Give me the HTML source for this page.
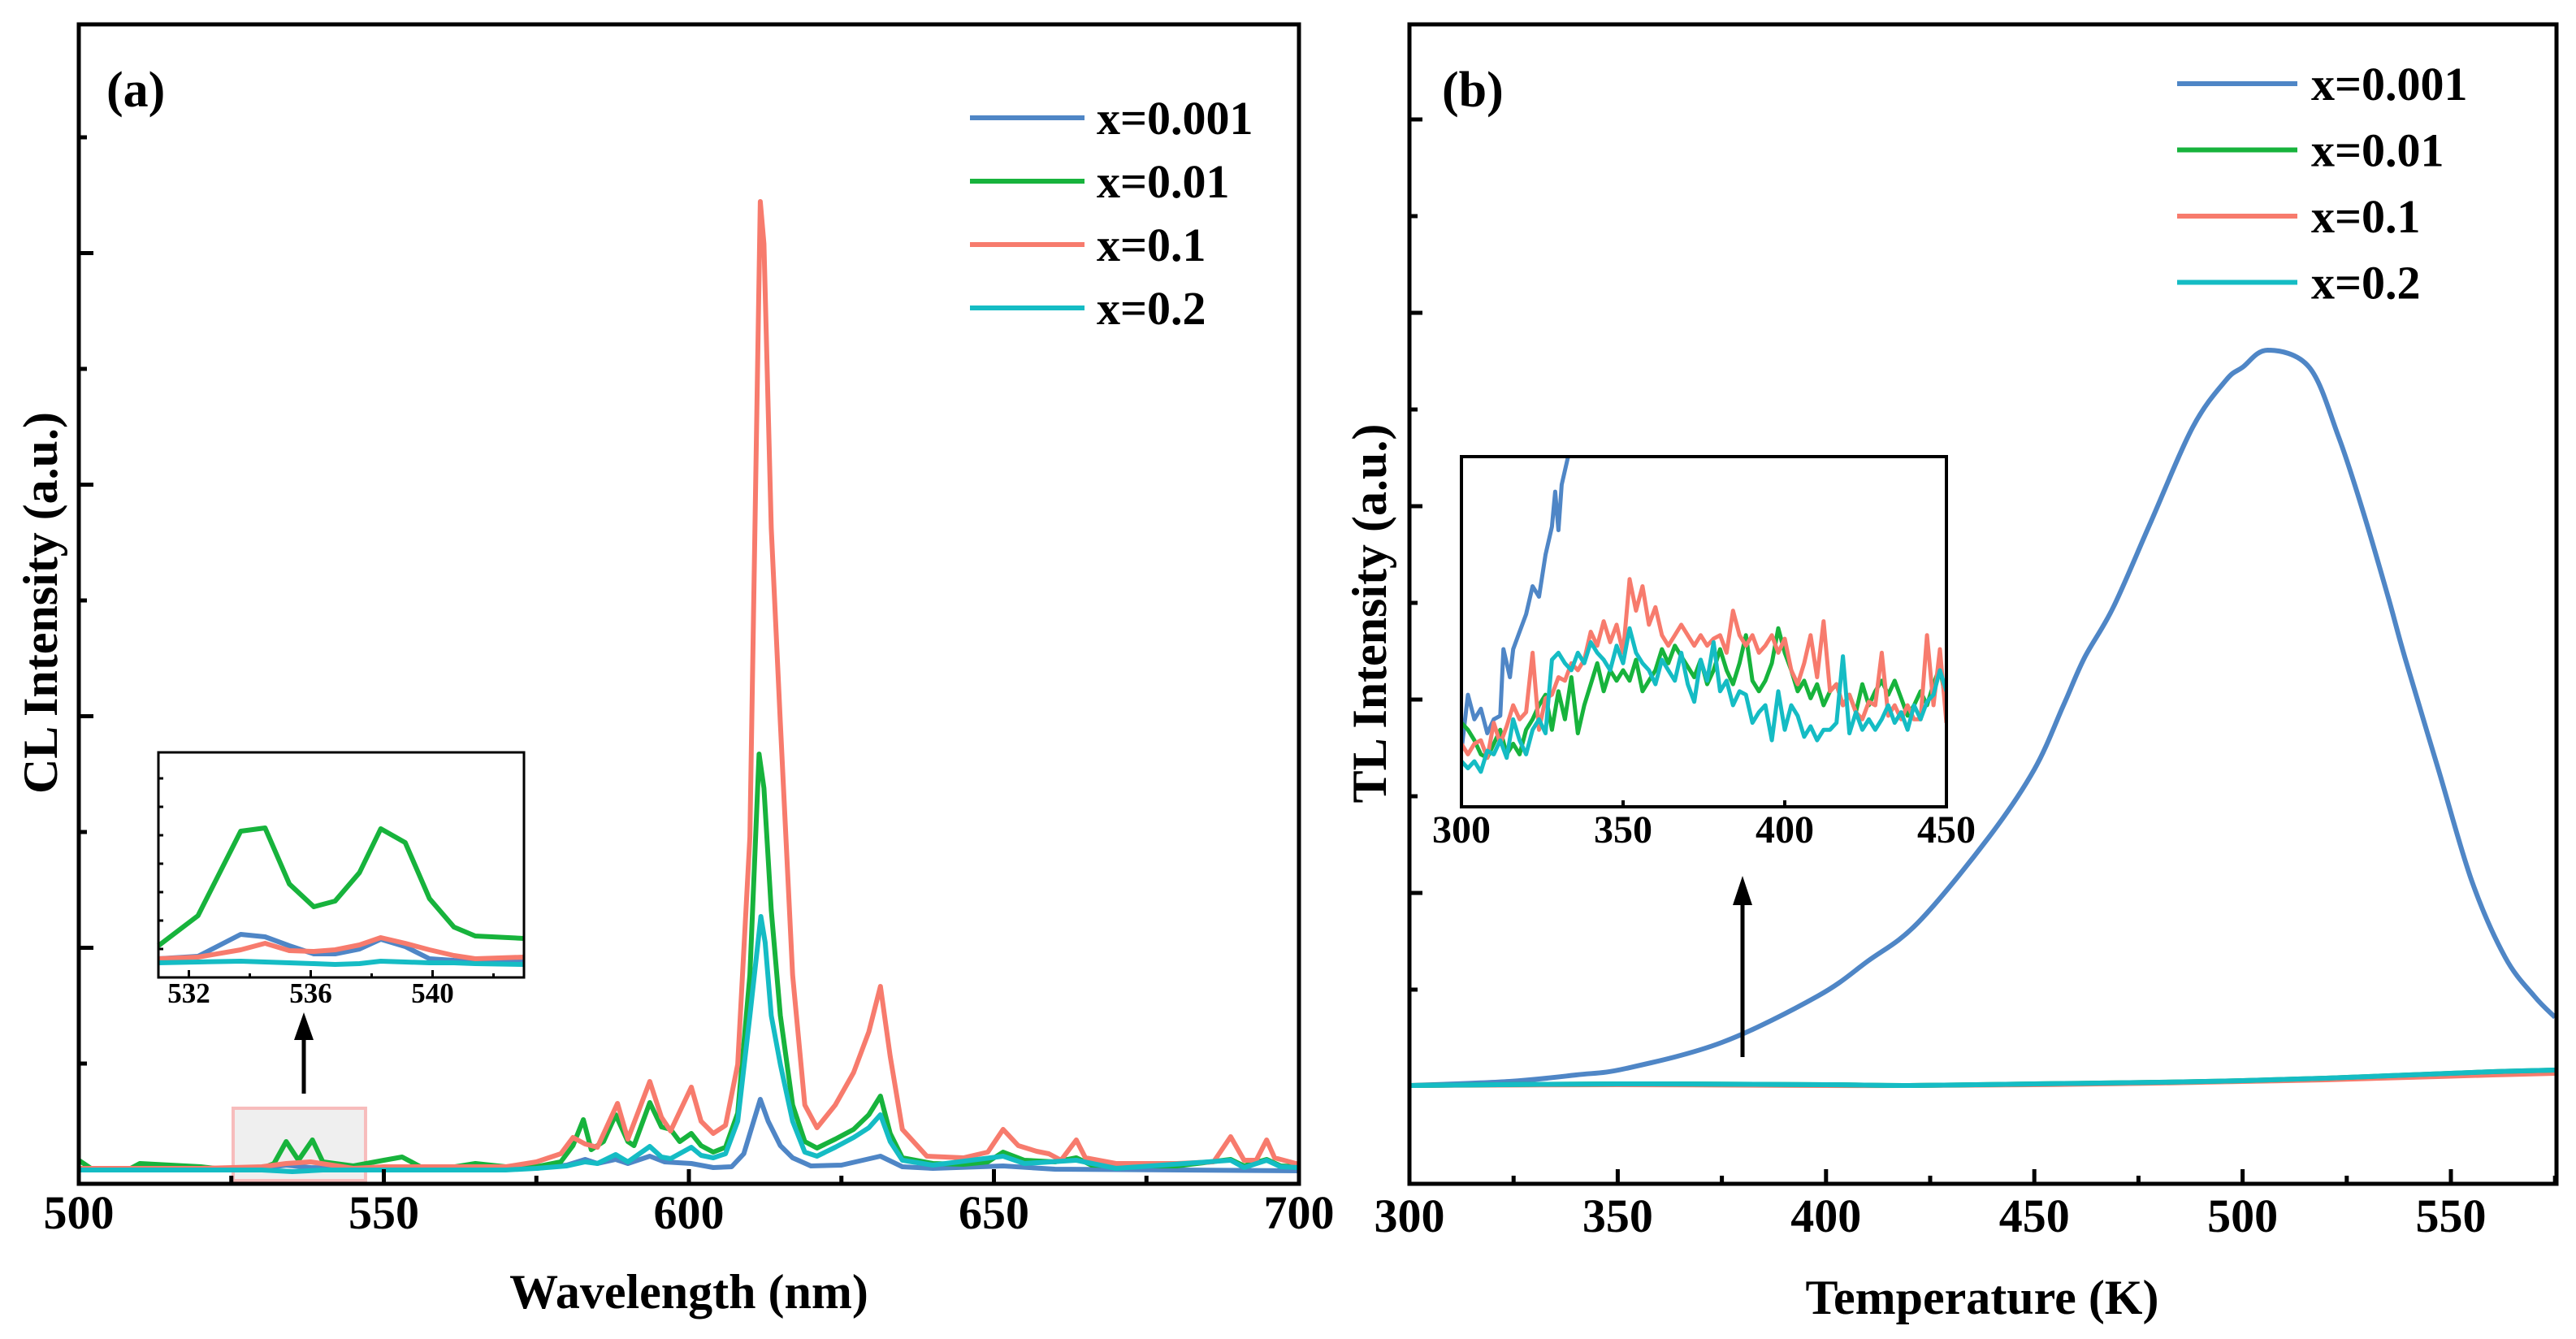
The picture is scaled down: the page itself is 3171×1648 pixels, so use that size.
<!DOCTYPE html>
<html><head><meta charset="utf-8"><style>
html,body{margin:0;padding:0;background:#fff;}
svg{display:block;font-family:"Liberation Serif",serif;font-weight:bold;}
</style></head><body>
<svg id="fig" width="3171" height="1648" viewBox="0 0 3171 1648" xmlns="http://www.w3.org/2000/svg">
<g id="pa"></g>
<g id="pb"></g>
</svg>
<script>
// ---------- Panel (a) data: CL spectra ----------
const aBlueX=[500,520,530,534,538,550,575,580,583,585,588,590,593.6,596,600.4,604,607,609,611.7,613,615,617,620,625,631.4,635,640,651.5,660,700];
const aBlueY=[12,11,12,16,13,11,12,16,23,18,23,18,27,20,18,13,14,30,97,70,40,25,15,16,27,14,12,15,11,9];
const aGreenX=[500,502,505,508,510,515,520,525,530,532,534,536,538.3,540,545,550,553,556,560,565,570,575,579,581,582.7,584,586,588,590,591,593.6,595.5,597,598.5,600.4,602,604,606,608,610,611.5,612.3,613.5,615,617,619,621,624,627,629.5,631.4,633,635,640,645,649,651.5,655,660,663.5,666,670,680,688.8,691,694.7,697,700];
const aGreenY=[22,12,10,10,18,16,14,10,12,18,45,22,47,20,15,22,26,14,12,18,14,14,20,40,72,35,45,78,45,40,93,63,60,45,55,40,32,38,80,250,522,480,330,200,90,45,37,48,60,78,101,55,25,18,17,20,32,22,20,25,16,15,15,23,15,23,15,14];
const aRedX=[500,510,520,530,534,538,545,550,560,570,575,579,581,583,585,588.3,590,593.6,595.5,597,600.4,602,604,606,608,610,611.7,612.3,613.5,615,617,619,621,624,627,629.5,631.4,633,635,639,645,649,651.5,654,657,659,661,663.5,665,670,680,686,688.8,691,693,694.7,696,700];
const aRedY=[12,12,12,14,18,20,12,14,14,14,20,30,50,42,38,92,48,119,75,58,112,70,55,65,140,420,1202,1150,800,560,250,90,62,90,130,180,236,150,60,27,25,32,60,40,33,30,22,47,25,18,18,20,51,22,22,47,25,17];
const aCyanX=[500,510,520,530,535,540,550,560,570,575,580,583,585,588,590,593.6,595.5,597,600.4,602,604,606,608,610,611.8,612.5,613.5,615,617,619,621,624,627,629.5,631.4,633,635,640,651.5,655,663.5,670,688.8,691,694.7,697,700];
const aCyanY=[10,10,10,10,8,10,10,10,10,12,15,20,18,29,20,39,26,24,38,28,25,30,70,200,322,290,200,140,70,32,27,38,50,62,78,45,22,16,27,18,22,12,22,13,22,14,13];
const aXTicks=[500,550,600,650,700];
// inset (a) data
const iaX=[531,532.3,533.7,534.5,535.3,536.1,536.8,537.6,538.3,539.1,539.9,540.7,541.4,543];
const iaGreen=[39,76,180,184,115,87,94,129,183,166,97,62,51,48];
const iaBlue=[23,26,53,50,39,29,29,35,47,38,23,21,20,20];
const iaRed=[23,25,34,42,33,32,34,40,49,42,34,27,23,25];
const iaCyan=[18,19,20,19,18,17,16,17,20,19,18,18,17,16];
const iaXTicks=[532,536,540];
// ---------- Panel (b) data: TL glow curves ----------
const bBlueX=[300,324,340,352,375,398,410,422,439,450,457,462,469,478,488,496,500,506,516,523,529,535,539,547,555,563,570,575];
const bBlueY=[0,5,13,21,53,110,153,200,305,389,468,526,589,694,810,868,884,905,884,799,705,600,526,389,252,158,110,84];
const bLowX=[300,350,400,420,450,480,500,520,540,560,575];
const bGreenY=[0,2,1,0,2,4,6,9,13,17,19];
const bRedY=[0,1,0,0,1,3,5,7,10,13,15];
const bCyanY=[0,2,1,0,2,4,6,9,13,17,19];
const bXTicks=[300,350,400,450,500,550];
// inset (b) data
const ibBlueX=[300,302,304,306,308,310,312,313,315,316,318,320,322,324,326,328,329,330,331,333];
const ibBlueY=[16,32,25,28,21,25,26,45,37,45,50,55,63,60,72,80,90,79,92,100];
const ibX=[];for(let t=300;t<=450;t+=2)ibX.push(t);
const ibGreen=[24,22,19,15,14,18,22,15,18,15,22,25,29,32,22,33,25,37,21,29,35,41,33,39,36,39,36,42,33,36,39,45,41,46,43,40,37,42,35,39,45,39,35,41,49,36,33,36,41,51,44,39,33,36,31,35,29,33,35,29,32,27,35,29,33,36,32,36,31,26,29,33,29,35,40,29];
const ibRed=[18,15,18,19,14,24,18,23,29,25,27,44,22,31,32,37,36,41,39,42,50,46,53,47,52,44,65,56,63,52,57,49,46,49,52,49,46,49,46,48,49,44,56,49,46,49,44,46,49,44,48,39,35,41,49,37,53,33,35,29,32,27,25,30,29,44,26,29,25,29,25,25,49,29,45,24];
const ibCyan=[13,11,13,10,16,15,19,14,25,19,15,22,25,21,42,44,41,39,44,41,47,44,42,39,46,41,51,44,41,39,35,42,39,36,44,35,30,42,36,47,33,36,29,33,32,24,27,29,19,33,22,29,26,20,23,19,22,22,24,43,21,27,22,25,22,25,29,24,27,22,29,25,30,32,39,33];
const ibXTicks=[300,350,400,450];

const COL={blue:"#4f86c6",green:"#17b33c",red:"#f77b6d",cyan:"#15bcc4"};
const NS="http://www.w3.org/2000/svg";
function mk(parent,tag,attrs){const e=document.createElementNS(NS,tag);for(const k in attrs)e.setAttribute(k,attrs[k]);parent.appendChild(e);return e;}
function pathD(xs,ys,fx,fy){let d="";for(let i=0;i<xs.length;i++){d+=(i?"L":"M")+fx(xs[i]).toFixed(1)+","+fy(ys[i]).toFixed(1);}return d;}
function smoothD(xs,ys,fx,fy){const P=xs.map((x,i)=>[fx(x),fy(ys[i])]);let d="M"+P[0][0].toFixed(1)+","+P[0][1].toFixed(1);
for(let i=0;i<P.length-1;i++){const p0=P[Math.max(0,i-1)],p1=P[i],p2=P[i+1],p3=P[Math.min(P.length-1,i+2)];
const c1=[p1[0]+(p2[0]-p0[0])/6,p1[1]+(p2[1]-p0[1])/6],c2=[p2[0]-(p3[0]-p1[0])/6,p2[1]-(p3[1]-p1[1])/6];
d+="C"+c1[0].toFixed(1)+","+c1[1].toFixed(1)+" "+c2[0].toFixed(1)+","+c2[1].toFixed(1)+" "+p2[0].toFixed(1)+","+p2[1].toFixed(1);}return d;}

// ===== Panel A =====
const pa=document.getElementById("pa");
const AL=97,AR=1599,AT=30,AB=1457;
const ax=v=>AL+(v-500)/200*(AR-AL);
const ay=v=>1450-v;
let hr=mk(pa,"rect",{x:ax(525.3),y:1364,width:ax(547)-ax(525.3),height:89,fill:"#efefef",stroke:"#f7bcbc","stroke-width":4});


const aSeries=[["blue",aBlueX,aBlueY],["green",aGreenX,aGreenY],["red",aRedX,aRedY],["cyan",aCyanX,aCyanY]];
aSeries.forEach(s=>{const p=mk(pa,"path",{d:pathD(s[1],s[2],ax,ay),fill:"none",stroke:COL[s[0]],"stroke-width":6,"stroke-linejoin":"round"});

});
let fa=mk(pa,"rect",{x:AL,y:AT,width:AR-AL,height:AB-AT,fill:"none",stroke:"#000","stroke-width":5});


for(let v=500;v<=700;v+=25){const major=v%50===0;const t=mk(pa,"line",{x1:ax(v),x2:ax(v),y1:AB,y2:AB-(major?18:10),stroke:"#000","stroke-width":5});

}
aXTicks.forEach(v=>{const t=mk(pa,"text",{x:ax(v),y:1512,"text-anchor":"middle","font-size":58});t.textContent=v;

});
for(let i=0;i<9;i++){const y=169+i*142.5;const major=i%2===1;const t=mk(pa,"line",{x1:AL,x2:AL+(major?18:10),y1:y,y2:y,stroke:"#000","stroke-width":5});

}
let xt=mk(pa,"text",{x:848,y:1610,"text-anchor":"middle","font-size":60});xt.textContent="Wavelength (nm)";


let yt=mk(pa,"text",{x:0,y:0,"text-anchor":"middle","font-size":60,transform:"translate(70,742) rotate(-90)"});yt.textContent="CL Intensity (a.u.)";


let la=mk(pa,"text",{x:131,y:131,"font-size":62});la.textContent="(a)";


const legNames=["x=0.001","x=0.01","x=0.1","x=0.2"],legCols=["blue","green","red","cyan"];
legNames.forEach((n,i)=>{const y=145+i*78;
const l=mk(pa,"line",{x1:1194,x2:1335,y1:y,y2:y,stroke:COL[legCols[i]],"stroke-width":6});


const t=mk(pa,"text",{x:1350,y:y+20,"font-size":58});t.textContent=n;

});
let arA=mk(pa,"line",{x1:374,x2:374,y1:1346,y2:1275,stroke:"#000","stroke-width":5});


let ahA=mk(pa,"polygon",{points:"374,1246 362,1280 386,1280",fill:"#000"});


const IL=195,IR=645,IT=926,IB=1203;
const ix=v=>IL+(v-531)/12*(IR-IL);
const iy=v=>IB-v;
let ibg=mk(pa,"rect",{x:IL,y:IT,width:IR-IL,height:IB-IT,fill:"#fff"});


[["blue",iaBlue],["red",iaRed],["cyan",iaCyan],["green",iaGreen]].forEach(s=>{const p=mk(pa,"path",{d:pathD(iaX,s[1],ix,iy),fill:"none",stroke:COL[s[0]],"stroke-width":6,"stroke-linejoin":"round"});

});
let ifr=mk(pa,"rect",{x:IL,y:IT,width:IR-IL,height:IB-IT,fill:"none",stroke:"#000","stroke-width":3});


for(let v=532;v<=542;v+=2){const major=iaXTicks.includes(v);const t=mk(pa,"line",{x1:ix(v),x2:ix(v),y1:IB,y2:IB-(major?9:5),stroke:"#000","stroke-width":3});

}
for(let i=1;i<8;i++){const y=IB-i*35;const t=mk(pa,"line",{x1:IL,x2:IL+6,y1:y,y2:y,stroke:"#000","stroke-width":3});

}
iaXTicks.forEach(v=>{const t=mk(pa,"text",{x:ix(v),y:1234,"text-anchor":"middle","font-size":35});t.textContent=v;

});

// ===== Panel B =====
const pb=document.getElementById("pb");
const BL=1735,BR=3147,BT=30,BB=1457;
const bx=v=>BL+(v-300)/250*(3017-BL);
const by=v=>1336-v;
let tb=mk(pb,"path",{d:smoothD(bBlueX,bBlueY,bx,by),fill:"none",stroke:COL.blue,"stroke-width":6,"stroke-linejoin":"round"});


[["red",bLowX,bRedY],["green",bLowX,bGreenY],["cyan",bLowX,bCyanY]].forEach(s=>{const p=mk(pb,"path",{d:smoothD(s[1],s[2],bx,by),fill:"none",stroke:COL[s[0]],"stroke-width":6,"stroke-linejoin":"round"});

});
let fb=mk(pb,"rect",{x:BL,y:BT,width:BR-BL,height:BB-BT,fill:"none",stroke:"#000","stroke-width":5});


for(let v=300;v<=575;v+=25){const major=v%50===0;const t=mk(pb,"line",{x1:bx(v),x2:bx(v),y1:BB,y2:BB-(major?18:10),stroke:"#000","stroke-width":5});

}
bXTicks.forEach(v=>{const t=mk(pb,"text",{x:bx(v),y:1516,"text-anchor":"middle","font-size":58});t.textContent=v;

});
for(let i=0;i<10;i++){const y=147+i*119;const major=i%2===0;const t=mk(pb,"line",{x1:BL,x2:BL+(major?16:10),y1:y,y2:y,stroke:"#000","stroke-width":5});

}
let xtb=mk(pb,"text",{x:2440,y:1617,"text-anchor":"middle","font-size":60});xtb.textContent="Temperature (K)";


let ytb=mk(pb,"text",{x:0,y:0,"text-anchor":"middle","font-size":60,transform:"translate(1706,755) rotate(-90)"});ytb.textContent="TL Intensity (a.u.)";


let lb=mk(pb,"text",{x:1775,y:131,"font-size":62});lb.textContent="(b)";


legNames.forEach((n,i)=>{const y=103+i*81.5;
const l=mk(pb,"line",{x1:2680,x2:2828,y1:y,y2:y,stroke:COL[legCols[i]],"stroke-width":6});


const t=mk(pb,"text",{x:2845,y:y+20,"font-size":58});t.textContent=n;

});
let arB=mk(pb,"line",{x1:2145,x2:2145,y1:1301,y2:1110,stroke:"#000","stroke-width":5});


let ahB=mk(pb,"polygon",{points:"2145,1078 2133,1114 2157,1114",fill:"#000"});


const JL=1799,JR=2396,JT=562,JB=993;
const jx=v=>JL+(v-300)/150*(JR-JL);
const jy=v=>JB-v/100*(JB-JT);
let jbg=mk(pb,"rect",{x:JL,y:JT,width:JR-JL,height:JB-JT,fill:"#fff"});


let cp=mk(pb,"clipPath",{id:"clipb"});mk(cp,"rect",{x:JL,y:JT,width:JR-JL,height:JB-JT});


[["blue",ibBlueX,ibBlueY],["green",ibX,ibGreen],["red",ibX,ibRed],["cyan",ibX,ibCyan]].forEach(s=>{const p=mk(pb,"path",{d:pathD(s[1],s[2],jx,jy),fill:"none",stroke:COL[s[0]],"stroke-width":5,"stroke-linejoin":"round","clip-path":"url(#clipb)"});

});
let jfr=mk(pb,"rect",{x:JL,y:JT,width:JR-JL,height:JB-JT,fill:"none",stroke:"#000","stroke-width":4});


ibXTicks.forEach(v=>{const t=mk(pb,"line",{x1:jx(v),x2:jx(v),y1:JB,y2:JB-8,stroke:"#000","stroke-width":4});


const tl=mk(pb,"text",{x:jx(v),y:1037,"text-anchor":"middle","font-size":48});tl.textContent=v;

});
</script>
</body></html>
